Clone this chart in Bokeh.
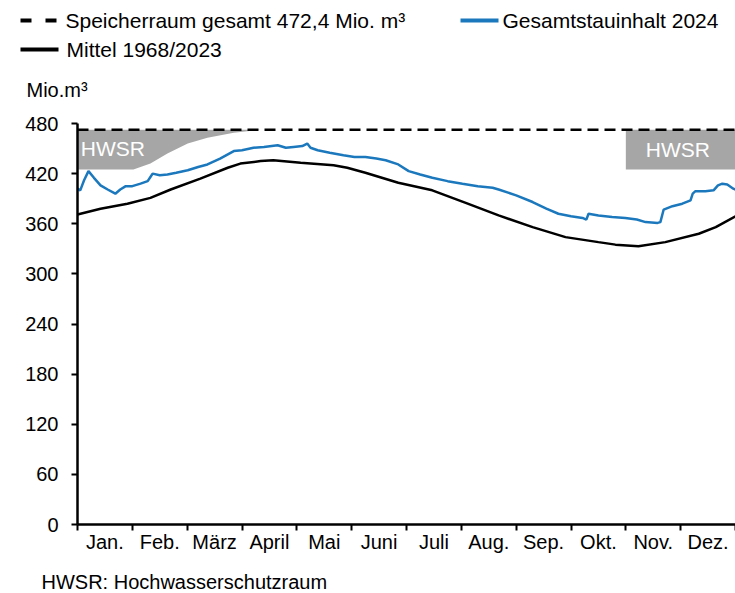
from bokeh.plotting import figure
from bokeh.layouts import column
from bokeh.models import Range1d, FixedTicker
from bokeh.core.properties import value
from bokeh.embed import file_html
from bokeh.resources import INLINE

# ---------------- data ----------------
months = ["Jan.", "Feb.", "März", "April", "Mai", "Juni", "Juli", "Aug.", "Sep.", "Okt.", "Nov.", "Dez."]
y_ticks = [0, 60, 120, 180, 240, 300, 360, 420, 480]
capacity = 472.4

mean_x = [0, 0.42, 0.91, 1.33, 1.70, 2.24, 2.74, 2.97, 3.34, 3.57, 4.07, 4.67, 4.92, 5.25,
          5.85, 6.47, 7.08, 7.68, 8.30, 8.90, 9.50, 9.81, 10.23, 10.72, 11.33, 11.64, 12.0]
mean_y = [371, 378, 384, 391, 401, 414, 427, 432, 435, 436, 433, 430, 427, 421,
          409, 400, 385, 370, 356, 344, 338, 335, 333, 338, 348, 356, 369]

y2024_x = [0, 0.05, 0.12, 0.2, 0.3, 0.42, 0.55, 0.69, 0.78, 0.88, 1.0, 1.15, 1.28, 1.33, 1.37,
           1.5, 1.64, 1.8, 2.01, 2.2, 2.37, 2.6, 2.85, 3.0, 3.21, 3.4, 3.65, 3.8, 3.94, 4.1,
           4.19, 4.25, 4.38, 4.6, 4.85, 5.05, 5.25, 5.45, 5.62, 5.85, 6.04, 6.25, 6.47, 6.75,
           7.02, 7.3, 7.57, 7.68, 8.0, 8.30, 8.55, 8.77, 9.0, 9.21, 9.28, 9.32, 9.50, 9.75,
           9.99, 10.2, 10.36, 10.58, 10.63, 10.69, 10.85, 11.03, 11.18, 11.22, 11.27, 11.45,
           11.60, 11.68, 11.76, 11.85, 11.96, 12.0]
y2024_y = [402, 400, 412, 423, 415, 406, 401, 396, 401, 405, 405, 408, 411, 416, 420,
           418, 419, 421, 424, 428, 431, 438, 447, 448, 451, 452, 454, 451, 452, 453,
           456, 451, 448, 445, 442, 440, 440, 438, 436, 431, 423, 419, 415, 411,
           408, 405, 403, 401, 394, 386, 378, 372, 369, 367, 365, 372, 370, 368,
           367, 365, 362, 361, 362, 377, 381, 384, 388, 396, 399, 399,
           400, 406, 408, 407, 402, 401]

hwsr_left_x = [0, 1.02, 1.33, 1.64, 2.01, 2.37, 2.85, 3.34]
hwsr_left_low = [425, 425, 432, 444, 456, 463, 469, 472.4]
hwsr_right_x = [10.0, 12.0]
hwsr_right_low = [425, 425]

legend_labels = ["Speicherraum gesamt 472,4 Mio. m³", "Gesamtstauinhalt 2024", "Mittel 1968/2023"]
unit_label = "Mio.m³"
footnote = "HWSR: Hochwasserschutzraum"

# ---------------- styling ----------------
FONT = "Liberation Sans"
LFONT = "Liberation Sans"
BLUE = "#1c78bd"
GRAY = "#a6a6a6"
W = 735
TOP_H, MAIN_H, BOT_H = 110, 460, 23


def blank(h):
    f = figure(width=W, height=h, output_backend="svg", toolbar_location=None,
               x_range=Range1d(0, W), y_range=Range1d(h, 0),
               x_axis_location=None, y_axis_location=None,
               min_border=0, min_border_left=0, min_border_right=0,
               min_border_top=0, min_border_bottom=0, frame_align=False)
    f.outline_line_color = None
    f.grid.visible = False
    f.background_fill_color = "white"
    f.border_fill_color = "white"
    return f


# ---------------- header (legend + unit) : pixel coordinates ----------------
top = blank(TOP_H)
top.line(x=[20, 58], y=[20, 20], line_color="black", line_width=4, line_dash="11 14")
top.text(x=[65], y=[20], text=[legend_labels[0]], text_font=value(LFONT), text_font_size="21px",
         text_baseline="middle", text_align="left", text_color="black")
top.line(x=[460, 498], y=[20, 20], line_color=BLUE, line_width=4)
top.text(x=[502], y=[20], text=[legend_labels[1]], text_font=value(LFONT), text_font_size="21px",
         text_baseline="middle", text_align="left", text_color="black")
top.line(x=[20, 58], y=[49, 49], line_color="black", line_width=4)
top.text(x=[66], y=[49], text=[legend_labels[2]], text_font=value(LFONT), text_font_size="21px",
         text_baseline="middle", text_align="left", text_color="black")
top.text(x=[26], y=[89], text=[unit_label], text_font=value(FONT), text_font_size="20px",
         text_baseline="middle", text_align="left", text_color="black")

# ---------------- main chart ----------------
p = figure(width=W, height=MAIN_H, output_backend="svg", toolbar_location=None,
           x_range=Range1d(0, 12), y_range=Range1d(0, 480), frame_align=False,
           min_border_left=77, min_border_right=0, min_border_top=13, min_border_bottom=46)
p.outline_line_color = None
p.grid.visible = False
p.background_fill_color = "white"
p.border_fill_color = "white"

p.varea(x=hwsr_left_x, y1=hwsr_left_low, y2=[capacity] * len(hwsr_left_x), fill_color=GRAY)
p.varea(x=hwsr_right_x, y1=hwsr_right_low, y2=[capacity] * len(hwsr_right_x), fill_color=GRAY)
p.text(x=[0.06], y=[450], text=["HWSR"], text_color="white", text_font=value(FONT),
       text_font_size="21px", text_baseline="middle", text_align="left")
p.text(x=[10.95], y=[449], text=["HWSR"], text_color="white", text_font=value(FONT),
       text_font_size="21px", text_baseline="middle", text_align="center")

p.line(x=[0, 12], y=[capacity, capacity], line_color="black", line_width=2.5, line_dash="11 6")
p.line(x=mean_x, y=mean_y, line_color="black", line_width=2.5)
p.line(x=y2024_x, y=y2024_y, line_color=BLUE, line_width=2.5)

xa = p.xaxis[0]
xa.ticker = FixedTicker(ticks=[i + 0.5 for i in range(12)], minor_ticks=list(range(13)))
xa.major_label_overrides = {i + 0.5: m for i, m in enumerate(months)}
xa.major_tick_out = 0
xa.major_tick_in = 0
xa.minor_tick_out = 6
xa.minor_tick_in = 0
xa.minor_tick_line_width = 2
xa.minor_tick_line_color = "black"
xa.axis_line_width = 2.5
xa.axis_line_color = "black"
xa.major_label_standoff = 0
xa.major_label_text_font = FONT
xa.major_label_text_font_size = "20px"
xa.major_label_text_color = "black"

ya = p.yaxis[0]
ya.ticker = FixedTicker(ticks=y_ticks, minor_ticks=[])
ya.major_tick_out = 6
ya.major_tick_in = 0
ya.major_tick_line_width = 2
ya.axis_line_width = 2.5
ya.axis_line_color = "black"
ya.major_label_standoff = 13
ya.major_label_text_font = FONT
ya.major_label_text_font_size = "20px"
ya.major_label_text_color = "black"

# ---------------- footer ----------------
bot = blank(BOT_H)
bot.text(x=[41], y=[11], text=[footnote], text_font=value(FONT), text_font_size="20px",
         text_baseline="middle", text_align="left", text_color="black")

layout = column(top, p, bot, spacing=0)
open("out.html", "w").write(file_html(layout, INLINE))
